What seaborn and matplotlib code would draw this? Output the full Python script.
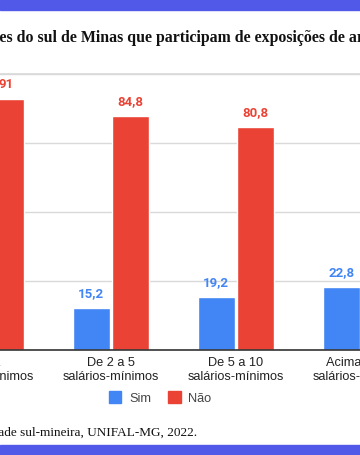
import matplotlib
matplotlib.use('agg')
import matplotlib.pyplot as plt
import matplotlib.patches as mpatches
from matplotlib.font_manager import FontProperties
import seaborn as sns
import pandas as pd

faixas = ['Até 2\nsalários-mínimos', 'De 2 a 5\nsalários-mínimos',
          'De 5 a 10\nsalários-mínimos', 'Acima de 10\nsalários-mínimos']
sim = [9, 15.2, 19.2, 22.8]
nao = [91, 84.8, 80.8, 77.2]
respostas = ['Sim', 'Não']
cores = ['#4285F4', '#EA4335']

titulo = ('Percentual de estudantes do sul de Minas que participam '
          'de exposições de arte, por renda familiar')
fonte = 'Fonte: Pesquisa sobre hábitos culturais da comunidade sul-mineira, UNIFAL-MG, 2022.'

df = pd.DataFrame({
    'faixa': faixas * 2,
    'resposta': ['Sim'] * 4 + ['Não'] * 4,
    'pct': sim + nao,
})

sns.set_theme(style='white')
plt.rcParams['font.family'] = ['Liberation Sans', 'DejaVu Sans']

W, H = 360, 455
fig = plt.figure(figsize=(W / 100, H / 100), dpi=100)

# axes wider than the figure: the reference is a crop of a wider chart
ax = fig.add_axes([-76.5 / W, (H - 350) / H, 500 / W, 276 / H])
sns.barplot(data=df, x='faixa', y='pct', hue='resposta', hue_order=respostas,
            palette=cores, width=0.63, gap=0.05, saturation=1, ax=ax)

ax.set_xlim(-0.5, 3.5)
ax.set_ylim(0, 100)
ax.set_yticks([0, 25, 50, 75, 100])
ax.yaxis.grid(True, color='#d9d9d9', lw=1)
ax.set_axisbelow(True)
ax.set_xlabel('')
ax.set_ylabel('')
ax.set_yticklabels([])
ax.tick_params(axis='y', length=0)
ax.tick_params(axis='x', length=0, pad=5, labelsize=9.2, labelcolor='#222222')
for s in ['left', 'right']:
    ax.spines[s].set_visible(False)
ax.spines['top'].set_color('#d9d9d9')
ax.spines['bottom'].set_color('#333333')
ax.spines['bottom'].set_linewidth(1.2)

for cont, cor in zip(ax.containers, cores):
    ax.bar_label(cont, labels=[f'{v:g}'.replace('.', ',') for v in cont.datavalues],
                 padding=6, color=cor, fontsize=9.5, fontweight='bold',
                 family=['Roboto', 'DejaVu Sans'])

ax.get_legend().remove()
handles = [mpatches.Patch(color=c, label=r) for c, r in zip(cores, respostas)]
fig.legend(handles=handles, loc='center', bbox_to_anchor=(160 / W, 1 - 398 / H),
           ncol=2, frameon=False, fontsize=9.2, labelcolor='#444444',
           handlelength=1.0, handleheight=1.0, handletextpad=0.6, columnspacing=1.3)

# title positioned so the visible part lines up with the crop
fp = FontProperties(family=['Liberation Serif'], weight='bold', size=11.4)
r = fig.canvas.get_renderer()
pre = titulo[:titulo.index('es do sul')]
w_pre = r.get_text_width_height_descent(pre, fp, ismath=False)[0]
fig.text(-w_pre / W, 1 - 38 / H, titulo, fontproperties=fp, ha='left',
         va='center', color='#111111')

fig.text(197 / W, 1 - 433 / H, fonte, ha='right', va='center', fontsize=9.5,
         family=['Liberation Serif'], color='#111111')

# blue page bands
for y0 in [0, 445]:
    fig.patches.append(mpatches.Rectangle((0, 1 - (y0 + 10) / H), 1, 10 / H,
                                          transform=fig.transFigure,
                                          color='#5059E8', zorder=5))

fig.savefig('out.png', dpi=100)
